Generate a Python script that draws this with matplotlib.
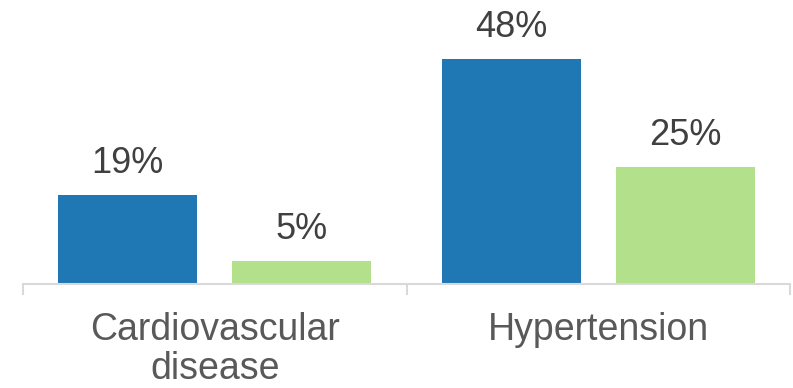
import matplotlib
matplotlib.use('Agg')
import matplotlib.pyplot as plt
import numpy as np

# données
categories = ['Cardiovascular\ndisease', 'Hypertension']
serie_bleue = [19, 48]
serie_verte = [5, 25]

couleur_bleue = '#1f77b4'
couleur_verte = '#b3e08a'
couleur_valeur = '#404040'
couleur_texte = '#595959'

plt.rcParams['font.family'] = ['Liberation Sans', 'DejaVu Sans']

fig = plt.figure(figsize=(7.93, 3.88), dpi=100)
ax = fig.add_axes([23 / 793, 104 / 388, 767 / 793, 284 / 388])

indices = np.arange(len(categories))
largeur = 0.362
decalage = 0.2266

barres_b = ax.bar(indices - decalage, serie_bleue, largeur, color=couleur_bleue)
barres_v = ax.bar(indices + decalage, serie_verte, largeur, color=couleur_verte)

# étiquettes de valeur au-dessus des barres
for barres in (barres_b, barres_v):
    ax.bar_label(barres, labels=[f'{v}%' for v in barres.datavalues],
                 padding=10, fontsize=26, color=couleur_valeur)

ax.set_xlim(-0.5, 1.5)
ax.set_ylim(0, 60.6)

# axes
for cote in ('top', 'right', 'left'):
    ax.spines[cote].set_visible(False)
ax.spines['bottom'].set_color('#d9d9d9')
ax.spines['bottom'].set_linewidth(1.5)
ax.set_yticks([])

ax.set_xticks(indices)
ax.set_xticklabels(categories, fontsize=27, color=couleur_texte, linespacing=1.12)
ax.tick_params(axis='x', which='major', length=0, pad=20)
ax.set_xticks([-0.5, 0.5, 1.5], minor=True)
ax.tick_params(axis='x', which='minor', length=8, width=1.5, color='#d9d9d9')

fig.savefig('out.png', dpi=100)
